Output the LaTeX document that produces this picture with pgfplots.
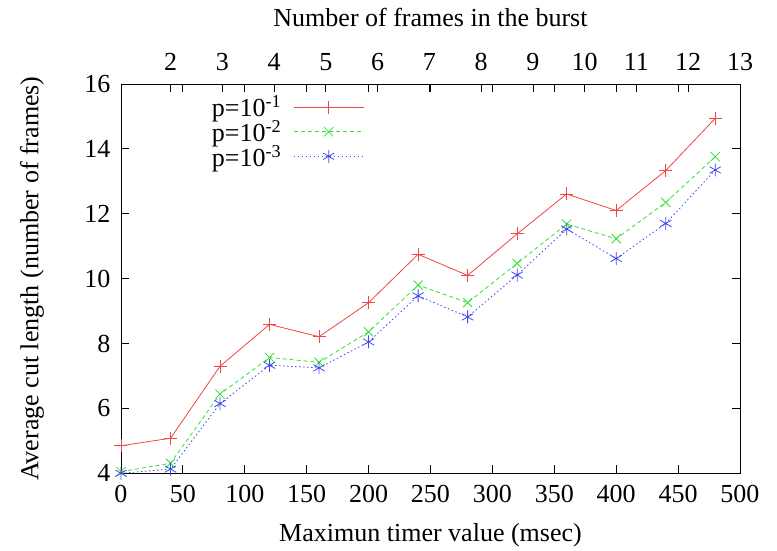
\documentclass[border=0pt]{standalone}
\usepackage{fontspec}
\setmainfont{Liberation Serif}
\usepackage{pgfplots}
\pgfplotsset{compat=1.18}
\definecolor{lred}{RGB}{240,70,70}
\definecolor{lgreen}{RGB}{50,225,50}
\definecolor{lblue}{RGB}{70,70,240}
\newcommand{\bigf}{\fontsize{26}{30}\selectfont}
\begin{document}
\begin{tikzpicture}[font=\bigf]
\useasboundingbox (-121pt,-77.7pt) rectangle (656pt,473.3pt);
\begin{axis}[
  at={(0pt,0pt)}, anchor=south west,
  scale only axis, width=619pt, height=389.3pt,
  xmin=0, xmax=500, ymin=4, ymax=16,
  xtick={0,50,...,500}, ytick={4,6,...,16},
  tick align=inside, major tick length=8pt,
  xtick pos=both, xticklabel pos=bottom,
  ytick pos=both, yticklabel pos=left,
  tick style={black, line width=0.8pt},
  axis line style={line width=0.8pt},
  /pgf/number format/assume math mode=true,
  tick label style={font=\bigf},
  xticklabel style={yshift=-8pt},
  yticklabel style={xshift=-7pt},
  label style={font=\bigf},
  xlabel={Maximun timer value (msec)},
  ylabel={Average cut length (number of frames)},
  xlabel style={at={(axis description cs:0.5,0)}, anchor=center, yshift=-62pt},
  ylabel style={at={(axis description cs:0,0.5)}, anchor=center, rotate=0, yshift=89pt},
  clip=false,
  legend plot pos=right,
  legend cell align=right,
  legend style={at={(rel axis cs:0.393,0.975)}, anchor=north east, draw=none, fill=none,
     font=\bigf, inner sep=0pt, column sep=10pt, row sep=-2pt},
  legend image post style={mark size=6.5pt},
  legend image code/.code={\draw[mark repeat=2,mark phase=2] plot coordinates {(0pt,0pt) (35pt,0pt) (70pt,0pt)};},
]
\addplot[lred, solid, line width=0.8pt, mark=+, mark size=6.5pt, mark options={solid}] coordinates {
(0,4.85)(40,5.08)(80,7.30)(120,8.59)(160,8.21)(200,9.26)(240,10.75)(280,10.10)(320,11.38)(360,12.61)(400,12.10)(440,13.33)(480,14.94)};
\addlegendentry{p=10\textsuperscript{-1}}
\addplot[lgreen, dash pattern=on 4pt off 3pt, line width=0.8pt, mark=x, mark size=6.5pt, mark options={solid}] coordinates {
(0,4.05)(40,4.31)(80,6.44)(120,7.57)(160,7.42)(200,8.36)(240,9.80)(280,9.26)(320,10.47)(360,11.68)(400,11.23)(440,12.35)(480,13.76)};
\addlegendentry{p=10\textsuperscript{-2}}
\addplot[lblue, dash pattern=on 1.5pt off 2.5pt, line width=0.8pt, mark=asterisk, mark size=6.5pt, mark options={solid}] coordinates {
(0,4.0)(40,4.13)(80,6.15)(120,7.33)(160,7.25)(200,8.05)(240,9.47)(280,8.82)(320,10.11)(360,11.53)(400,10.62)(440,11.70)(480,13.35)};
\addlegendentry{p=10\textsuperscript{-3}}
\end{axis}
\begin{axis}[
  at={(0pt,0pt)}, anchor=south west,
  scale only axis, width=619pt, height=389.3pt,
  xmin=1.0435, xmax=13, ymin=0, ymax=1,
  axis x line*=top, hide y axis,
  xtick={2,...,13},
  tick align=inside, major tick length=8pt,
  tick style={black, line width=0.8pt},
  axis line style={line width=0.8pt},
  /pgf/number format/assume math mode=true,
  tick label style={font=\bigf},
  xticklabel style={yshift=10pt},
  xlabel={Number of frames in the burst},
  xlabel style={at={(axis description cs:0.5,1)}, anchor=center, yshift=67pt, font=\bigf},
]
\end{axis}
\end{tikzpicture}
\end{document}
